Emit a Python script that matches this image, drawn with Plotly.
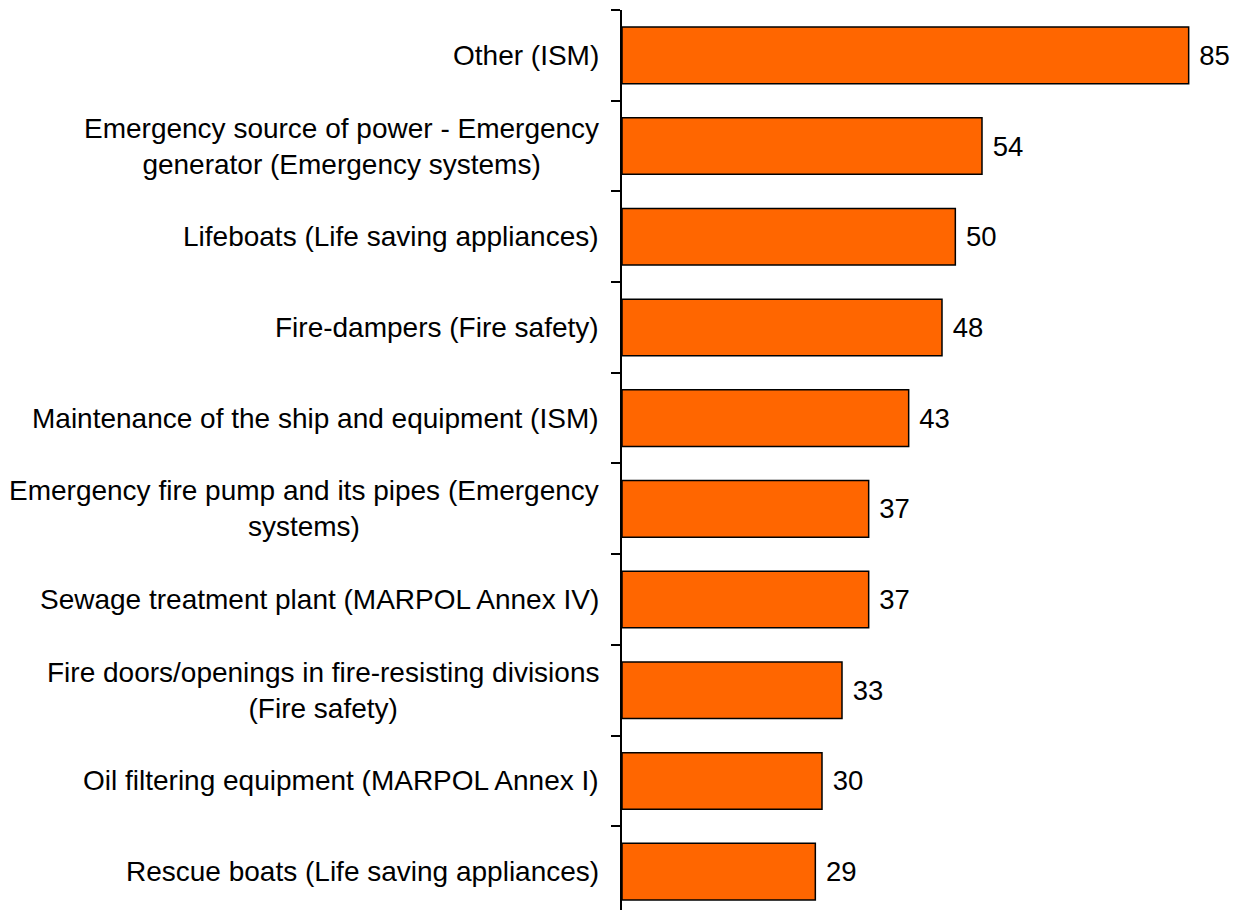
import plotly.graph_objects as go

categories = [
    "Other (ISM)",
    "Emergency source of power - Emergency<br>generator (Emergency systems)",
    "Lifeboats (Life saving appliances)",
    "Fire-dampers (Fire safety)",
    "Maintenance of the ship and equipment (ISM)",
    "Emergency fire pump and its pipes (Emergency<br>systems)",
    "Sewage treatment plant (MARPOL Annex IV)",
    "Fire doors/openings in fire-resisting divisions<br>(Fire safety)",
    "Oil filtering equipment (MARPOL Annex I)",
    "Rescue boats (Life saving appliances)",
]
values = [85, 54, 50, 48, 43, 37, 37, 33, 30, 29]

FONT = "Arial, Liberation Sans, sans-serif"

fig = go.Figure()
fig.add_trace(go.Bar(
    x=values,
    y=categories,
    orientation="h",
    marker=dict(color="#FF6600", line=dict(color="black", width=1.5)),
    text=["\u00a0" + str(v) for v in values],
    textposition="outside",
    textfont=dict(family=FONT, size=27.5, color="black"),
    constraintext="none",
    cliponaxis=False,
))

# category labels, centred lines and right-aligned next to the axis
for cat in categories:
    fig.add_annotation(
        xref="paper", yref="y", x=0, y=cat,
        text=cat, showarrow=False,
        xanchor="right", yanchor="middle", align="center",
        xshift=-21,
        font=dict(family=FONT, size=28, color="black"),
    )

fig.update_layout(
    width=1230, height=902,
    margin=dict(l=614, r=0, t=2, b=0),
    plot_bgcolor="white",
    paper_bgcolor="white",
    bargap=0.376,
    showlegend=False,
    xaxis=dict(range=[0, 92.4], visible=False, fixedrange=True),
    yaxis=dict(
        type="category",
        range=[9.423, -0.5],
        tickson="boundaries",
        ticks="outside", ticklen=9, tickwidth=1.5, tickcolor="black",
        showticklabels=False,
        showline=True, linecolor="black", linewidth=1.5,
        showgrid=False,
    ),
)

fig.write_html("out.html")
